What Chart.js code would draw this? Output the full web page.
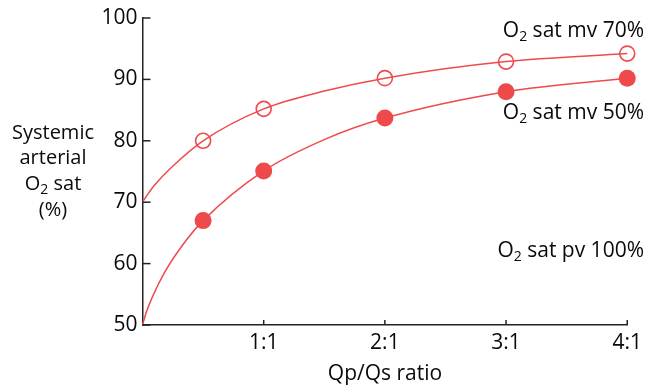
<!DOCTYPE html>
<html>
<head>
<meta charset="utf-8">
<script src="https://cdn.jsdelivr.net/npm/chart.js@4"></script>
<style>
  html, body { margin: 0; padding: 0; background: #ffffff; }
  #wrap { width: 647px; height: 386px; }
</style>
</head>
<body>
<div id="wrap"><canvas id="c" width="647" height="386"></canvas></div>
<script>
// ---- data ----
const ratioValues = [0.5, 1, 2, 3, 4];
const satMv70 = [80, 85.2, 90.2, 92.9, 94.2];
const satMv50 = [67, 75.1, 83.7, 88, 90.2];
// curve traces
const curveX70 = [0, 0.04, 0.1, 0.24, 0.5, 1, 1.5, 2, 3, 4];
const curveY70 = [70, 71.2, 72.8, 75.7, 80, 85.2, 88.1, 90.2, 92.9, 94.2];
const curveX50 = [0, 0.03, 0.08, 0.18, 0.33, 0.5, 1, 1.5, 2, 3, 4];
const curveY50 = [50, 52, 54.5, 58.5, 63, 67, 75.1, 80.2, 83.7, 88, 90.2];
const xTickValues = [1, 2, 3, 4];
const xTickLabels = ['1:1', '2:1', '3:1', '4:1'];
const yTickValues = [50, 60, 70, 80, 90, 100];
const yTitleLines = ['Systemic', 'arterial', 'O|2| sat', '(%)'];
const seriesLabels = ['O|2| sat mv 70%', 'O|2| sat mv 50%', 'O|2| sat pv 100%'];
const xTitle = 'Qp/Qs ratio';

const RED = '#ee4a4c';
const AXIS = '#222222';
const TEXT = '#0a0a0a';
const FONT = '"Open Sans", "Noto Sans", sans-serif';
const FS = 21;

function pts(xs, ys) { return xs.map((x, i) => ({ x: x, y: ys[i] })); }

// draw text with a "|2|" subscript segment; align: 'left'|'center'|'right'
function drawSubText(ctx, str, x, y, align, size) {
  const parts = str.split('|');
  const small = Math.round(size * 0.68);
  const widths = parts.map((p, i) => {
    ctx.font = (i % 2 ? small : size) + 'px ' + FONT;
    return ctx.measureText(p).width;
  });
  const total = widths.reduce((a, b) => a + b, 0);
  let cx = align === 'center' ? x - total / 2 : align === 'right' ? x - total : x;
  ctx.textAlign = 'left';
  ctx.textBaseline = 'middle';
  parts.forEach((p, i) => {
    ctx.font = (i % 2 ? small : size) + 'px ' + FONT;
    ctx.fillText(p, cx, i % 2 ? y + size * 0.3 : y);
    cx += widths[i];
  });
}

const decorPlugin = {
  id: 'decor',
  afterDraw(chart) {
    const ctx = chart.ctx;
    const xs = chart.scales.x, ys = chart.scales.y;
    ctx.save();
    // inside ticks
    ctx.strokeStyle = AXIS;
    ctx.lineWidth = 1.5;
    const left = xs.left, bottom = ys.bottom;
    yTickValues.forEach(v => {
      const py = ys.getPixelForValue(v);
      ctx.beginPath(); ctx.moveTo(left, py); ctx.lineTo(left + 8, py); ctx.stroke();
    });
    xTickValues.forEach(v => {
      const px = xs.getPixelForValue(v);
      ctx.beginPath(); ctx.moveTo(px, bottom); ctx.lineTo(px, bottom - 5); ctx.stroke();
    });
    // texts
    ctx.fillStyle = TEXT;
    const yTitleY = [133, 158, 184, 210];
    yTitleLines.forEach((t, i) => drawSubText(ctx, t, 53, yTitleY[i], 'center', 20));
    drawSubText(ctx, seriesLabels[0], 644, 31, 'right', FS);
    drawSubText(ctx, seriesLabels[1], 644, 113, 'right', FS);
    drawSubText(ctx, seriesLabels[2], 644, 251, 'right', FS);
    drawSubText(ctx, xTitle, 385, 374, 'center', FS);
    ctx.restore();
  }
};

new Chart(document.getElementById('c'), {
  type: 'scatter',
  data: {
    datasets: [
      { type: 'line', data: pts(curveX70, curveY70), borderColor: RED, borderWidth: 1.5,
        pointRadius: 0, cubicInterpolationMode: 'monotone', fill: false, clip: false },
      { type: 'line', data: pts(curveX50, curveY50), borderColor: RED, borderWidth: 1.5,
        pointRadius: 0, cubicInterpolationMode: 'monotone', fill: false, clip: false },
      { data: pts(ratioValues, satMv70), pointRadius: 7.5, pointBorderWidth: 1.6,
        pointBackgroundColor: '#ffffff', pointBorderColor: RED, showLine: false, clip: false },
      { data: pts(ratioValues, satMv50), pointRadius: 8.5, pointBorderWidth: 0,
        pointBackgroundColor: RED, pointBorderColor: RED, showLine: false, clip: false }
    ]
  },
  options: {
    responsive: false,
    animation: false,
    events: [],
    layout: { padding: { top: 18, right: 15, left: 0, bottom: 0 } },
    plugins: { legend: { display: false }, tooltip: { enabled: false } },
    scales: {
      x: {
        type: 'linear', min: 0, max: 4,
        afterFit(s) { s.height = 61; },
        afterBuildTicks(s) { s.ticks = xTickValues.map(v => ({ value: v })); },
        ticks: {
          padding: 5, color: TEXT, font: { family: FONT, size: FS },
          callback: (v) => { const i = xTickValues.indexOf(v); return i >= 0 ? xTickLabels[i] : ''; }
        },
        grid: { display: false, drawTicks: false },
        border: { display: true, color: AXIS, width: 1.5 }
      },
      y: {
        type: 'linear', min: 50, max: 100,
        afterFit(s) { s.width = 142.5; },
        afterBuildTicks(s) { s.ticks = yTickValues.map(v => ({ value: v })); },
        ticks: { padding: 5, color: TEXT, font: { family: FONT, size: FS } },
        grid: { display: false, drawTicks: false },
        border: { display: true, color: AXIS, width: 1.5 }
      }
    }
  },
  plugins: [decorPlugin]
});
</script>
</body>
</html>
